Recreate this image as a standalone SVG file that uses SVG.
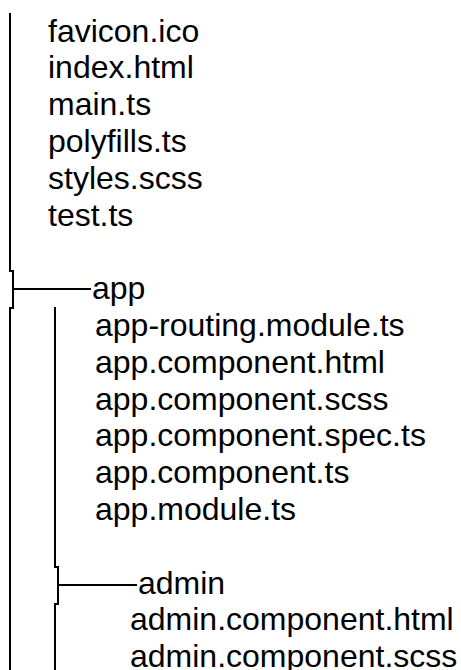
<svg xmlns="http://www.w3.org/2000/svg" width="461" height="670" viewBox="0 0 461 670">
<style>
text{font-family:"Liberation Sans",Arial,sans-serif;font-size:32px;fill:#000}
.c{stroke:#000;stroke-width:2;fill:none}
</style>
<rect width="461" height="670" fill="#fff"/>
<g id="connectors">
<path class="c" d="M10,13 V271 H13 V308 H10 V670"/>
<line class="c" x1="13" y1="289" x2="91" y2="289"/>
<path class="c" d="M55,307 V567 H58 V604 H55 V670"/>
<line class="c" x1="58" y1="585" x2="137" y2="585"/>
</g>
<g id="root-files">
<text x="48" y="41.5">favicon.ico</text>
<text x="48" y="78.3">index.html</text>
<text x="48" y="115.1">main.ts</text>
<text x="48" y="151.9">polyfills.ts</text>
<text x="48" y="188.7">styles.scss</text>
<text x="48" y="225.5">test.ts</text>
</g>
<g id="app"><text x="92" y="299.1">app</text></g>
<g id="app-files">
<text x="95" y="335.9">app-routing.module.ts</text>
<text x="95" y="372.7">app.component.html</text>
<text x="95" y="409.5">app.component.scss</text>
<text x="95" y="446.3">app.component.spec.ts</text>
<text x="95" y="483.1">app.component.ts</text>
<text x="95" y="519.9">app.module.ts</text>
</g>
<g id="admin"><text x="138" y="593.5">admin</text></g>
<g id="admin-files">
<text x="130" y="630.3">admin.component.html</text>
<text x="130" y="667.1">admin.component.scss</text>
</g>
</svg>
